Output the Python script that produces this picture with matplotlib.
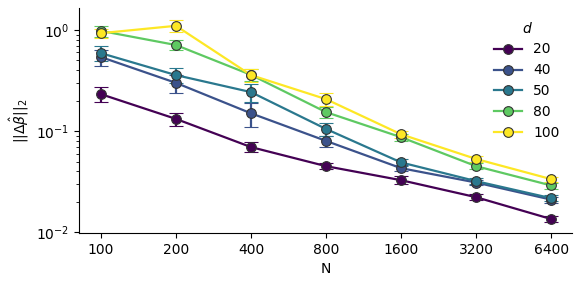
import matplotlib
matplotlib.use("Agg")
import matplotlib.pyplot as plt
from matplotlib.lines import Line2D
import numpy as np

N_labels = ["100", "200", "400", "800", "1600", "3200", "6400"]
d_values = ["20", "40", "50", "80", "100"]

err_d20 = [0.232, 0.132, 0.0695, 0.045, 0.0327, 0.0222, 0.0135]
err_d40 = [0.54, 0.30, 0.15, 0.080, 0.043, 0.031, 0.021]
err_d50 = [0.59, 0.358, 0.243, 0.105, 0.049, 0.032, 0.0217]
err_d80 = [0.98, 0.71, 0.36, 0.154, 0.087, 0.045, 0.029]
err_d100 = [0.93, 1.10, 0.358, 0.207, 0.093, 0.053, 0.0335]

sd_d20 = [0.04, 0.02, 0.008, 0.003, 0.003, 0.0015, 0.001]
sd_d40 = [0.10, 0.06, 0.04, 0.01, 0.003, 0.002, 0.0015]
sd_d50 = [0.10, 0.06, 0.05, 0.015, 0.004, 0.002, 0.0015]
sd_d80 = [0.12, 0.08, 0.05, 0.02, 0.007, 0.003, 0.002]
sd_d100 = [0.10, 0.15, 0.05, 0.03, 0.008, 0.004, 0.002]

series = [err_d20, err_d40, err_d50, err_d80, err_d100]
sds = [sd_d20, sd_d40, sd_d50, sd_d80, sd_d100]
colors = ["#440154", "#3b528b", "#2a788e", "#5ec962", "#fde725"]

fig = plt.figure(figsize=(5.82, 2.86), dpi=100)
ax = fig.add_axes([0.136, 0.185, 0.847, 0.787])
x = np.arange(len(N_labels))
handles = []
for lab, y, s, c in zip(d_values, series, sds, colors):
    ax.errorbar(x, y, yerr=s, color=c, marker='o', markersize=7,
                markeredgecolor='#333333', markeredgewidth=0.8, linewidth=1.6,
                capsize=5, elinewidth=1.6, capthick=1.6, ecolor=c)
    handles.append(Line2D([], [], color=c, marker='o', markersize=7,
                          markeredgecolor='#333333', markeredgewidth=0.8,
                          linewidth=1.6, label=lab))
ax.set_yscale('log')
ax.set_ylim(0.0098, 1.65)
ax.set_xlim(-0.29, 6.28)
ax.set_xticks(x)
ax.set_xticklabels(N_labels)
ax.set_xlabel("N")
ax.set_ylabel(r"$||\Delta\hat{\beta}||_2$")
ax.spines['top'].set_visible(False)
ax.spines['right'].set_visible(False)
ax.tick_params(labelsize=10)
ax.legend(handles=handles, title=r"$d$", frameon=False, loc='upper right',
          fontsize=10)
fig.savefig("out.png", dpi=100)
